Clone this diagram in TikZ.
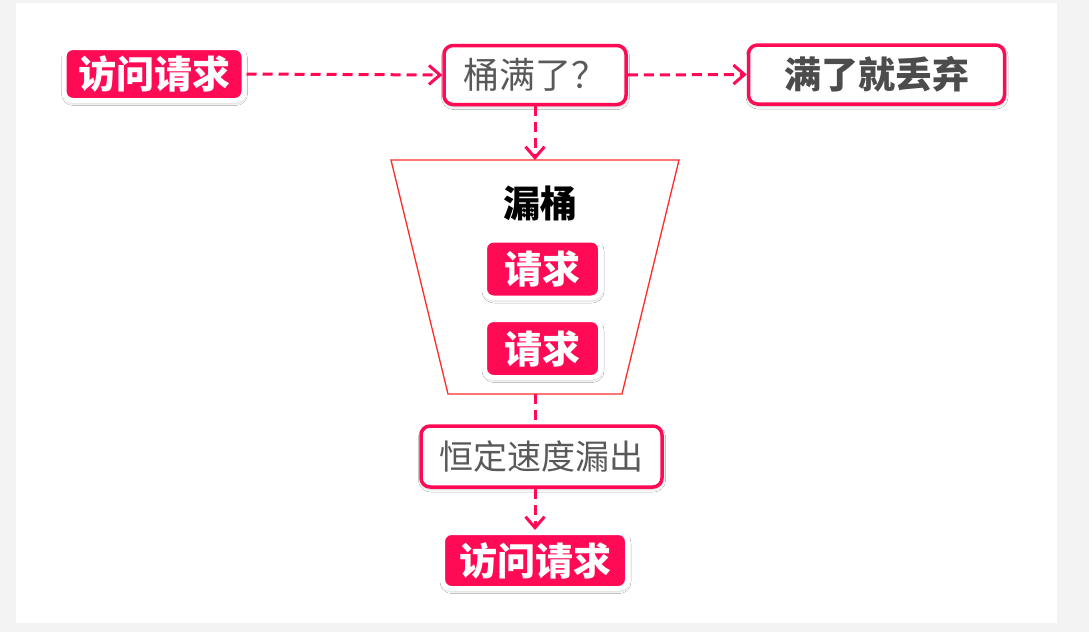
\documentclass[tikz,border=0pt]{standalone}
\usepackage{fontspec}
\usepackage{xcolor}
\usetikzlibrary{arrows.meta,shadows.blur}
\newfontfamily\cjk{Noto Sans CJK SC}[BoldFont={Noto Sans CJK SC Black}]
\definecolor{rosered}{HTML}{FF0A55}
\definecolor{bucketred}{HTML}{FF2A2A}
\definecolor{textgray}{HTML}{595959}
\definecolor{pagegray}{HTML}{F3F3F3}
\tikzset{
  reqnode/.style={fill=rosered,draw=white,line width=5pt,rounded corners=9pt,
    inner sep=0pt,text=white,font=\cjk\bfseries\fontsize{38}{38}\selectfont,
    blur shadow={shadow xshift=0.5pt,shadow yshift=-2pt,shadow opacity=35,shadow blur radius=3pt}},
  asknode/.style={fill=white,draw=rosered,line width=3.5pt,rounded corners=9pt,
    inner sep=0pt,text=textgray,font=\cjk\fontsize{36}{36}\selectfont,
    blur shadow={shadow xshift=0.5pt,shadow yshift=-2pt,shadow opacity=25,shadow blur radius=3pt}},
  flowarrow/.style={draw=rosered,line width=3pt,dash pattern=on 10pt off 6pt,
    -{Straight Barb[length=11pt,width=19pt,line width=3pt]}},
}
\begin{document}
\begin{tikzpicture}[x=1pt,y=-1pt]
\useasboundingbox (0,0) rectangle (1089,632);
\fill[pagegray] (0,0) rectangle (1089,632);
\fill[white] (16,3) rectangle (1057,623);

\node[reqnode,minimum width=180pt,minimum height=53pt] (req) at (154,74) {访问请求};
\node[asknode,minimum width=182pt,minimum height=59pt] (full) at (535,75) {桶满了？};
\node[asknode,minimum width=256pt,minimum height=59pt,text=textgray!85!black,font=\cjk\bfseries\fontsize{37}{37}\selectfont] (drop) at (876.5,74.5) {满了就丢弃};

\draw[bucketred,line width=1.3pt,fill=white] (391,160) -- (679,160) -- (622,394) -- (448,394) -- cycle;
\coordinate (bucktop) at (535,160);
\coordinate (buckbot) at (535,394);
\node[font=\cjk\bfseries\fontsize{37}{37}\selectfont] (bucket) at (540,203) {漏桶};
\node[reqnode,minimum width=116pt,minimum height=58pt] (reqa) at (542.5,269) {请求};
\node[reqnode,minimum width=116pt,minimum height=58pt] (reqb) at (542.5,348.5) {请求};

\node[asknode,minimum width=241pt,minimum height=61pt,font=\cjk\fontsize{34}{34}\selectfont] (leak) at (541.5,456.5) {恒定速度漏出};
\node[reqnode,minimum width=185pt,minimum height=56pt] (out) at (535,560.5) {访问请求};

\draw[flowarrow] (req.east) -- (full.west);
\draw[flowarrow] (full.east) -- (drop.west);
\draw[flowarrow] (full.south) -- (bucktop);
\draw[flowarrow,-] (buckbot) -- (leak.north -| buckbot);
\draw[flowarrow] (leak.south -| out.north) -- (out.north);
\end{tikzpicture}
\end{document}
